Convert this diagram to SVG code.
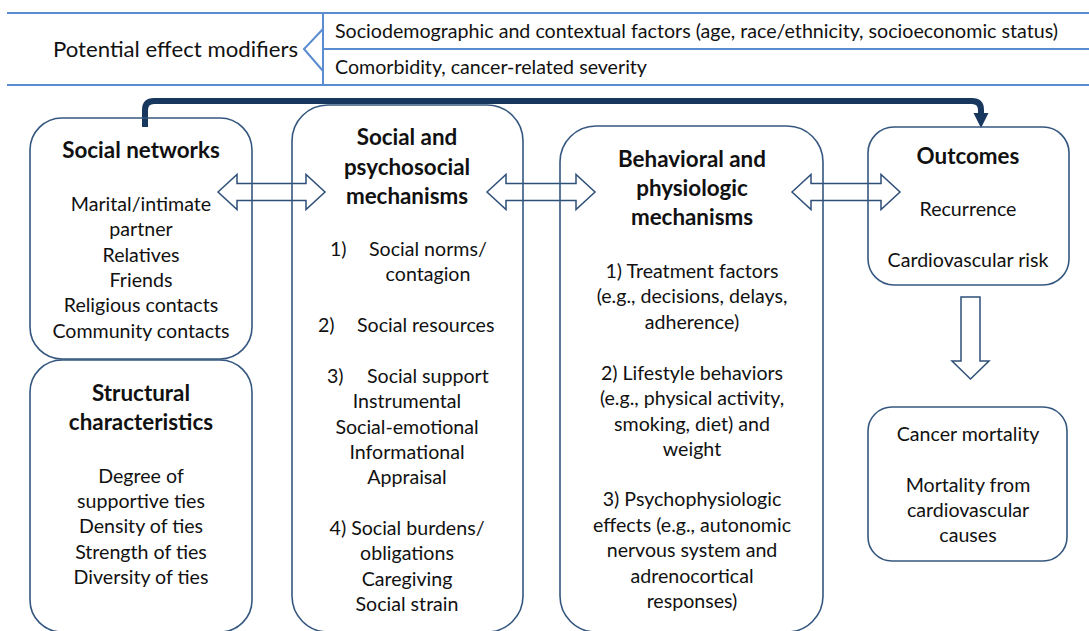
<svg xmlns="http://www.w3.org/2000/svg" width="1089" height="631" viewBox="0 0 1089 631">
  <style>
    text { font-family: Lato, "Noto Sans", "DejaVu Sans", sans-serif; fill: #111; }
    .hd { font-size: 20px; }
    .big { font-size: 21px; }
    .t { font-size: 22.4px; font-weight: bold; text-anchor: middle; }
    .b { font-size: 19.6px; text-anchor: middle; }
    .bs { font-size: 19.6px; }
    .rule { stroke: #5b8bd0; stroke-width: 2; fill: none; }
    .box { fill: none; stroke: #35577f; stroke-width: 1.6; }
    .blk { fill: none; stroke: #2e4f78; stroke-width: 1.5; stroke-linejoin: miter; }
  </style>

  <rect width="1089" height="631" fill="#ffffff"/>

  <!-- effect modifier table -->
  <g id="modifiers">
    <line class="rule" x1="7" y1="13" x2="1089" y2="13"/>
    <line class="rule" x1="323" y1="49" x2="1089" y2="49"/>
    <line class="rule" x1="7" y1="85" x2="1089" y2="85"/>
    <line class="rule" x1="323" y1="13" x2="323" y2="85"/>
    <polyline class="rule" points="323,29 304,49 323,71"/>
    <text class="big" x="53" y="57" textLength="245" lengthAdjust="spacingAndGlyphs">Potential effect modifiers</text>
    <text class="hd" x="335" y="38" textLength="723" lengthAdjust="spacingAndGlyphs">Sociodemographic and contextual factors (age, race/ethnicity, socioeconomic status)</text>
    <text class="hd" x="335" y="74" textLength="312" lengthAdjust="spacingAndGlyphs">Comorbidity, cancer-related severity</text>
  </g>

  <!-- connectors -->
  <g id="connectors">
    <path d="M145,127 V110 Q145,101 154,101 H972 Q981,101 981,110 V114" fill="none" stroke="#17375e" stroke-width="6"/>
    <polygon points="973.5,113 988.5,113 981,128" fill="#17375e"/>
    <polygon class="blk" points="218,192 237,174.5 237,183.5 306,183.5 306,174.5 325,192 306,209.5 306,200.5 237,200.5 237,209.5"/>
    <polygon class="blk" points="487,192 506,174.5 506,183.5 576,183.5 576,174.5 595,192 576,209.5 576,200.5 506,200.5 506,209.5"/>
    <polygon class="blk" points="792,192 811,174.5 811,183.5 881,183.5 881,174.5 900,192 881,209.5 881,200.5 811,200.5 811,209.5"/>
    <polygon class="blk" points="961,297 980,297 980,361 989,361 970.5,379 952,361 961,361"/>
  </g>

  <g id="social-networks">
    <rect class="box" x="30" y="118" width="222" height="241" rx="32"/>
    <text class="t" x="141" y="158">Social networks</text>
    <text class="b" x="141" y="211">Marital/intimate</text>
    <text class="b" x="141" y="236">partner</text>
    <text class="b" x="141" y="262">Relatives</text>
    <text class="b" x="141" y="287">Friends</text>
    <text class="b" x="141" y="312">Religious contacts</text>
    <text class="b" x="141" y="338">Community contacts</text>
  </g>

  <g id="structural">
    <rect class="box" x="30" y="360" width="222" height="272" rx="32"/>
    <text class="t" x="141" y="401">Structural</text>
    <text class="t" x="141" y="430">characteristics</text>
    <text class="b" x="141" y="483">Degree of</text>
    <text class="b" x="141" y="508">supportive ties</text>
    <text class="b" x="141" y="533">Density of ties</text>
    <text class="b" x="141" y="559">Strength of ties</text>
    <text class="b" x="141" y="584">Diversity of ties</text>
  </g>

  <g id="psychosocial">
    <rect class="box" x="292" y="105" width="231" height="527" rx="36"/>
    <text class="t" x="407" y="145">Social and</text>
    <text class="t" x="407" y="175">psychosocial</text>
    <text class="t" x="407" y="204">mechanisms</text>
    <text class="bs" x="330" y="256">1)</text>
    <text class="bs" x="369" y="256">Social norms/</text>
    <text class="b" x="428" y="281">contagion</text>
    <text class="bs" x="318" y="332">2)</text>
    <text class="bs" x="357" y="332">Social resources</text>
    <text class="bs" x="327" y="383">3)</text>
    <text class="bs" x="367" y="383">Social support</text>
    <text class="b" x="407" y="408">Instrumental</text>
    <text class="b" x="407" y="434">Social-emotional</text>
    <text class="b" x="407" y="459">Informational</text>
    <text class="b" x="407" y="484">Appraisal</text>
    <text class="b" x="407" y="535">4) Social burdens/</text>
    <text class="b" x="407" y="560">obligations</text>
    <text class="b" x="407" y="586">Caregiving</text>
    <text class="b" x="407" y="611">Social strain</text>
  </g>

  <g id="behavioral">
    <rect class="box" x="560" y="126" width="263" height="506" rx="36"/>
    <text class="t" x="692" y="167">Behavioral and</text>
    <text class="t" x="692" y="196">physiologic</text>
    <text class="t" x="692" y="225">mechanisms</text>
    <text class="b" x="692" y="278">1) Treatment factors</text>
    <text class="b" x="692" y="303">(e.g., decisions, delays,</text>
    <text class="b" x="692" y="329">adherence)</text>
    <text class="b" x="692" y="380">2) Lifestyle behaviors</text>
    <text class="b" x="692" y="405">(e.g., physical activity,</text>
    <text class="b" x="692" y="431">smoking, diet) and</text>
    <text class="b" x="692" y="456">weight</text>
    <text class="b" x="692" y="506">3) Psychophysiologic</text>
    <text class="b" x="692" y="532">effects (e.g., autonomic</text>
    <text class="b" x="692" y="557">nervous system and</text>
    <text class="b" x="692" y="583">adrenocortical</text>
    <text class="b" x="692" y="608">responses)</text>
  </g>

  <g id="outcomes">
    <rect class="box" x="868" y="127" width="201" height="158" rx="26"/>
    <text class="t" x="968" y="164">Outcomes</text>
    <text class="b" x="968" y="216">Recurrence</text>
    <text class="b" x="968" y="267">Cardiovascular risk</text>
  </g>

  <g id="mortality">
    <rect class="box" x="868" y="407" width="199" height="154" rx="24"/>
    <text class="b" x="968" y="441">Cancer mortality</text>
    <text class="b" x="968" y="492">Mortality from</text>
    <text class="b" x="968" y="517">cardiovascular</text>
    <text class="b" x="968" y="542">causes</text>
  </g>
</svg>
